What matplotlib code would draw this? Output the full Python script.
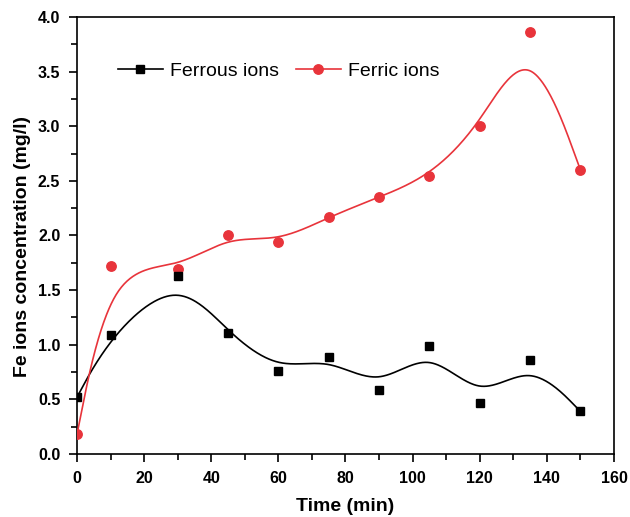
import matplotlib
matplotlib.use('Agg')
import matplotlib.pyplot as plt
import numpy as np
from matplotlib.ticker import MultipleLocator

plt.rcParams['font.family'] = ['Liberation Sans', 'DejaVu Sans']

# Data
time = [0, 10, 30, 45, 60, 75, 90, 105, 120, 135, 150]
ferrous = [0.52, 1.09, 1.63, 1.11, 0.76, 0.89, 0.59, 0.99, 0.47, 0.86, 0.39]
ferric = [0.18, 1.72, 1.69, 2.00, 1.94, 2.17, 2.35, 2.54, 3.00, 3.86, 2.60]


def bspline(cx, cy, n_seg=60):
    # uniform cubic B-spline, data points as control points,
    # end points repeated so the curve starts/ends on them
    P = np.column_stack([cx, cy]).astype(float)
    P = np.vstack([P[:1], P[:1], P, P[-1:], P[-1:]])
    u = np.linspace(0, 1, n_seg)
    b0 = (1 - u) ** 3 / 6
    b1 = (3 * u ** 3 - 6 * u ** 2 + 4) / 6
    b2 = (-3 * u ** 3 + 3 * u ** 2 + 3 * u + 1) / 6
    b3 = u ** 3 / 6
    pts = []
    for i in range(len(P) - 3):
        seg = (np.outer(b0, P[i]) + np.outer(b1, P[i + 1])
               + np.outer(b2, P[i + 2]) + np.outer(b3, P[i + 3]))
        pts.append(seg)
    pts = np.vstack(pts)
    return pts[:, 0], pts[:, 1]


red = '#E8343B'

fig = plt.figure(figsize=(6.3, 5.17), dpi=100)
ax = fig.add_axes([0.1222, 0.1219, 0.8524, 0.8453])

bx, by = bspline(time, ferrous)
rx, ry = bspline(time, ferric)
ax.plot(bx, by, color='black', lw=1.2, zorder=2)
ax.plot(rx, ry, color=red, lw=1.2, zorder=3)
ax.plot(time, ferric, 'o', color=red, ms=6.8, zorder=4)
ax.plot(time, ferrous, 's', color='black', ms=6.2, zorder=5)

# legend handles
h1, = ax.plot([], [], '-s', color='black', lw=1.2, ms=6.2, label='Ferrous ions')
h2, = ax.plot([], [], '-o', color=red, lw=1.2, ms=6.8, label='Ferric ions')
ax.legend(handles=[h1, h2], loc='center left', bbox_to_anchor=(0.076, 0.877), ncol=2,
          frameon=False, fontsize=14, handlelength=2.3, handletextpad=0.36,
          columnspacing=0.9, borderaxespad=0, borderpad=0)

ax.set_xlim(0, 160)
ax.set_ylim(0, 4.0)
ax.xaxis.set_major_locator(MultipleLocator(20))
ax.xaxis.set_minor_locator(MultipleLocator(10))
ax.yaxis.set_minor_locator(MultipleLocator(0.25))
ax.set_yticks(np.arange(0, 4.01, 0.5))
ax.set_yticklabels(['%.1f' % v for v in np.arange(0, 4.01, 0.5)])

ax.tick_params(which='major', direction='out', length=6, width=1.2, labelsize=11.5, pad=6)
ax.tick_params(which='minor', direction='out', length=4, width=1.2)
for lab in ax.get_xticklabels() + ax.get_yticklabels():
    lab.set_fontweight('bold')
for sp in ax.spines.values():
    sp.set_linewidth(1.2)

ax.set_xlabel('Time (min)', fontsize=14, fontweight='bold', labelpad=9)
ax.set_ylabel('Fe ions concentration (mg/l)', fontsize=14, fontweight='bold')
ax.yaxis.set_label_coords(-0.085, 0.474)

fig.savefig('out.png', dpi=100)
